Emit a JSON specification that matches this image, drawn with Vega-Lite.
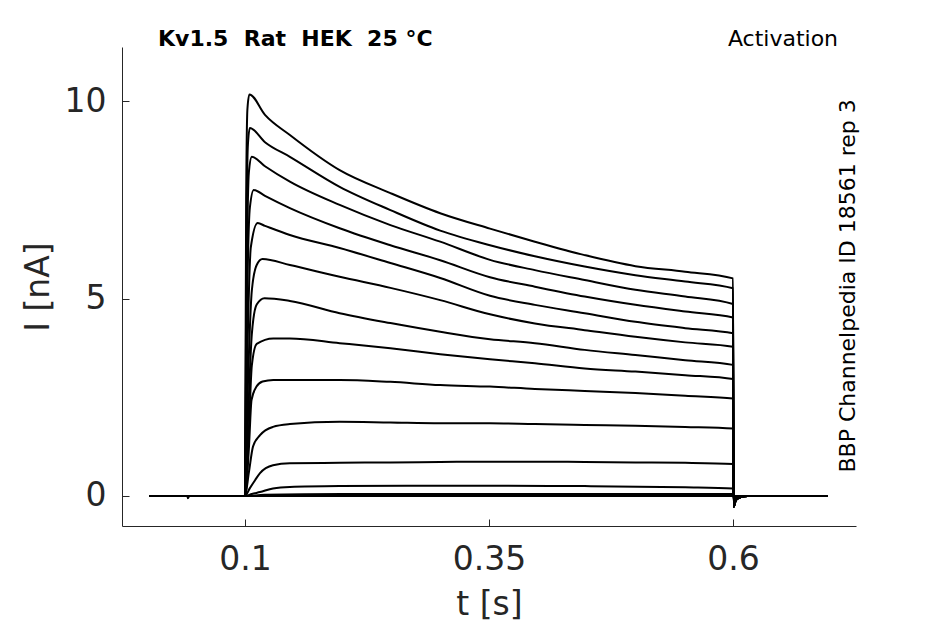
{
  "$schema": "https://vega.github.io/schema/vega-lite/v6.json",
  "width": 734,
  "height": 479,
  "autosize": {"type": "none"},
  "padding": {"left": 122, "top": 47, "right": 89, "bottom": 98},
  "background": "white",
  "config": {
    "view": {"stroke": null},
    "font": "DejaVu Sans",
    "axis": {
      "grid": false,
      "domainColor": "#262626",
      "domainWidth": 1,
      "tickColor": "#262626",
      "tickWidth": 1,
      "tickSize": -7,
      "labelColor": "#262626",
      "titleColor": "#262626",
      "labelFont": "DejaVu Sans",
      "titleFont": "DejaVu Sans",
      "labelFontSize": 33,
      "titleFontSize": 33,
      "titleFontWeight": "normal"
    }
  },
  "layer": [
    {
      "data": {
        "values": [
          {"k": 1, "t": 0.002, "i": 0}, {"k": 1, "t": 0.041, "i": 0}, {"k": 1, "t": 0.0415, "i": -0.06}, {"k": 1, "t": 0.043, "i": 0},
          {"k": 1, "t": 0.1, "i": 0}, {"k": 1, "t": 0.1012, "i": 7.5}, {"k": 1, "t": 0.1025, "i": 9.8}, {"k": 1, "t": 0.1045, "i": 10.17},
          {"k": 1, "t": 0.1205, "i": 9.65}, {"k": 1, "t": 0.146, "i": 9.14}, {"k": 1, "t": 0.197, "i": 8.25}, {"k": 1, "t": 0.249, "i": 7.67},
          {"k": 1, "t": 0.3, "i": 7.16}, {"k": 1, "t": 0.351, "i": 6.77}, {"k": 1, "t": 0.397, "i": 6.44}, {"k": 1, "t": 0.448, "i": 6.1},
          {"k": 1, "t": 0.5, "i": 5.82}, {"k": 1, "t": 0.551, "i": 5.68}, {"k": 1, "t": 0.6, "i": 5.51},
          {"k": 1, "t": 0.6006, "i": -0.27}, {"k": 1, "t": 0.603, "i": -0.1}, {"k": 1, "t": 0.608, "i": -0.03}, {"k": 1, "t": 0.615, "i": 0}, {"k": 1, "t": 0.697, "i": 0},

          {"k": 2, "t": 0.002, "i": 0}, {"k": 2, "t": 0.1, "i": 0}, {"k": 2, "t": 0.1015, "i": 6.5}, {"k": 2, "t": 0.103, "i": 8.9}, {"k": 2, "t": 0.105, "i": 9.32},
          {"k": 2, "t": 0.1205, "i": 8.96}, {"k": 2, "t": 0.146, "i": 8.59}, {"k": 2, "t": 0.197, "i": 7.83}, {"k": 2, "t": 0.249, "i": 7.24},
          {"k": 2, "t": 0.3, "i": 6.72}, {"k": 2, "t": 0.351, "i": 6.35}, {"k": 2, "t": 0.397, "i": 6.07}, {"k": 2, "t": 0.448, "i": 5.81},
          {"k": 2, "t": 0.5, "i": 5.59}, {"k": 2, "t": 0.551, "i": 5.43}, {"k": 2, "t": 0.6, "i": 5.26},
          {"k": 2, "t": 0.6006, "i": -0.27}, {"k": 2, "t": 0.603, "i": -0.1}, {"k": 2, "t": 0.608, "i": -0.03}, {"k": 2, "t": 0.615, "i": 0}, {"k": 2, "t": 0.697, "i": 0},

          {"k": 3, "t": 0.002, "i": 0}, {"k": 3, "t": 0.1, "i": 0}, {"k": 3, "t": 0.1018, "i": 5.5}, {"k": 3, "t": 0.104, "i": 8.2}, {"k": 3, "t": 0.107, "i": 8.59},
          {"k": 3, "t": 0.1205, "i": 8.35}, {"k": 3, "t": 0.146, "i": 7.96}, {"k": 3, "t": 0.197, "i": 7.37}, {"k": 3, "t": 0.249, "i": 6.86},
          {"k": 3, "t": 0.3, "i": 6.44}, {"k": 3, "t": 0.351, "i": 5.98}, {"k": 3, "t": 0.397, "i": 5.72}, {"k": 3, "t": 0.448, "i": 5.47},
          {"k": 3, "t": 0.5, "i": 5.22}, {"k": 3, "t": 0.551, "i": 5.05}, {"k": 3, "t": 0.6, "i": 4.86},
          {"k": 3, "t": 0.6006, "i": -0.27}, {"k": 3, "t": 0.603, "i": -0.1}, {"k": 3, "t": 0.608, "i": -0.03}, {"k": 3, "t": 0.615, "i": 0}, {"k": 3, "t": 0.697, "i": 0},

          {"k": 4, "t": 0.002, "i": 0}, {"k": 4, "t": 0.1, "i": 0}, {"k": 4, "t": 0.102, "i": 4.5}, {"k": 4, "t": 0.105, "i": 7.3}, {"k": 4, "t": 0.109, "i": 7.75},
          {"k": 4, "t": 0.1205, "i": 7.6}, {"k": 4, "t": 0.146, "i": 7.29}, {"k": 4, "t": 0.197, "i": 6.78}, {"k": 4, "t": 0.249, "i": 6.35},
          {"k": 4, "t": 0.3, "i": 5.97}, {"k": 4, "t": 0.351, "i": 5.54}, {"k": 4, "t": 0.397, "i": 5.3}, {"k": 4, "t": 0.448, "i": 5.05},
          {"k": 4, "t": 0.5, "i": 4.84}, {"k": 4, "t": 0.551, "i": 4.67}, {"k": 4, "t": 0.6, "i": 4.52},
          {"k": 4, "t": 0.6006, "i": -0.27}, {"k": 4, "t": 0.603, "i": -0.1}, {"k": 4, "t": 0.608, "i": -0.03}, {"k": 4, "t": 0.615, "i": 0}, {"k": 4, "t": 0.697, "i": 0},

          {"k": 5, "t": 0.002, "i": 0}, {"k": 5, "t": 0.1, "i": 0}, {"k": 5, "t": 0.1025, "i": 3.6}, {"k": 5, "t": 0.106, "i": 6.3}, {"k": 5, "t": 0.113, "i": 6.91},
          {"k": 5, "t": 0.1205, "i": 6.84}, {"k": 5, "t": 0.146, "i": 6.61}, {"k": 5, "t": 0.197, "i": 6.28}, {"k": 5, "t": 0.249, "i": 5.9},
          {"k": 5, "t": 0.3, "i": 5.52}, {"k": 5, "t": 0.351, "i": 5.07}, {"k": 5, "t": 0.397, "i": 4.84}, {"k": 5, "t": 0.448, "i": 4.63},
          {"k": 5, "t": 0.5, "i": 4.41}, {"k": 5, "t": 0.551, "i": 4.25}, {"k": 5, "t": 0.6, "i": 4.12},
          {"k": 5, "t": 0.6006, "i": -0.27}, {"k": 5, "t": 0.603, "i": -0.1}, {"k": 5, "t": 0.608, "i": -0.03}, {"k": 5, "t": 0.615, "i": 0}, {"k": 5, "t": 0.697, "i": 0},

          {"k": 6, "t": 0.002, "i": 0}, {"k": 6, "t": 0.1, "i": 0}, {"k": 6, "t": 0.103, "i": 2.8}, {"k": 6, "t": 0.107, "i": 5.2}, {"k": 6, "t": 0.112, "i": 5.85},
          {"k": 6, "t": 0.118, "i": 6.0}, {"k": 6, "t": 0.146, "i": 5.85}, {"k": 6, "t": 0.197, "i": 5.55}, {"k": 6, "t": 0.249, "i": 5.27},
          {"k": 6, "t": 0.3, "i": 4.96}, {"k": 6, "t": 0.351, "i": 4.6}, {"k": 6, "t": 0.397, "i": 4.37}, {"k": 6, "t": 0.448, "i": 4.2},
          {"k": 6, "t": 0.5, "i": 4.03}, {"k": 6, "t": 0.551, "i": 3.89}, {"k": 6, "t": 0.6, "i": 3.78},
          {"k": 6, "t": 0.6006, "i": -0.27}, {"k": 6, "t": 0.603, "i": -0.1}, {"k": 6, "t": 0.608, "i": -0.03}, {"k": 6, "t": 0.615, "i": 0}, {"k": 6, "t": 0.697, "i": 0},

          {"k": 7, "t": 0.002, "i": 0}, {"k": 7, "t": 0.1, "i": 0}, {"k": 7, "t": 0.1035, "i": 2.2}, {"k": 7, "t": 0.107, "i": 4.1}, {"k": 7, "t": 0.112, "i": 4.85},
          {"k": 7, "t": 0.12, "i": 5.01}, {"k": 7, "t": 0.146, "i": 4.94}, {"k": 7, "t": 0.197, "i": 4.63}, {"k": 7, "t": 0.249, "i": 4.38},
          {"k": 7, "t": 0.3, "i": 4.16}, {"k": 7, "t": 0.351, "i": 3.97}, {"k": 7, "t": 0.397, "i": 3.87}, {"k": 7, "t": 0.448, "i": 3.7},
          {"k": 7, "t": 0.5, "i": 3.57}, {"k": 7, "t": 0.551, "i": 3.44}, {"k": 7, "t": 0.6, "i": 3.32},
          {"k": 7, "t": 0.6006, "i": -0.27}, {"k": 7, "t": 0.603, "i": -0.1}, {"k": 7, "t": 0.608, "i": -0.03}, {"k": 7, "t": 0.615, "i": 0}, {"k": 7, "t": 0.697, "i": 0},

          {"k": 8, "t": 0.002, "i": 0}, {"k": 8, "t": 0.1, "i": 0}, {"k": 8, "t": 0.104, "i": 1.7}, {"k": 8, "t": 0.107, "i": 3.3}, {"k": 8, "t": 0.112, "i": 3.85},
          {"k": 8, "t": 0.129, "i": 3.99}, {"k": 8, "t": 0.146, "i": 3.99}, {"k": 8, "t": 0.197, "i": 3.87}, {"k": 8, "t": 0.249, "i": 3.74},
          {"k": 8, "t": 0.3, "i": 3.59}, {"k": 8, "t": 0.351, "i": 3.46}, {"k": 8, "t": 0.397, "i": 3.36}, {"k": 8, "t": 0.448, "i": 3.23},
          {"k": 8, "t": 0.5, "i": 3.15}, {"k": 8, "t": 0.551, "i": 3.06}, {"k": 8, "t": 0.6, "i": 2.96},
          {"k": 8, "t": 0.6006, "i": -0.27}, {"k": 8, "t": 0.603, "i": -0.1}, {"k": 8, "t": 0.608, "i": -0.03}, {"k": 8, "t": 0.615, "i": 0}, {"k": 8, "t": 0.697, "i": 0},

          {"k": 9, "t": 0.002, "i": 0}, {"k": 9, "t": 0.1, "i": 0}, {"k": 9, "t": 0.104, "i": 1.2}, {"k": 9, "t": 0.1067, "i": 2.43}, {"k": 9, "t": 0.1118, "i": 2.77},
          {"k": 9, "t": 0.118, "i": 2.9}, {"k": 9, "t": 0.129, "i": 2.94}, {"k": 9, "t": 0.146, "i": 2.94}, {"k": 9, "t": 0.197, "i": 2.94},
          {"k": 9, "t": 0.249, "i": 2.89}, {"k": 9, "t": 0.3, "i": 2.81}, {"k": 9, "t": 0.351, "i": 2.77}, {"k": 9, "t": 0.397, "i": 2.71},
          {"k": 9, "t": 0.448, "i": 2.66}, {"k": 9, "t": 0.5, "i": 2.61}, {"k": 9, "t": 0.551, "i": 2.54}, {"k": 9, "t": 0.6, "i": 2.47},
          {"k": 9, "t": 0.6006, "i": -0.27}, {"k": 9, "t": 0.603, "i": -0.1}, {"k": 9, "t": 0.608, "i": -0.03}, {"k": 9, "t": 0.615, "i": 0}, {"k": 9, "t": 0.697, "i": 0},

          {"k": 10, "t": 0.002, "i": 0}, {"k": 10, "t": 0.1, "i": 0}, {"k": 10, "t": 0.104, "i": 0.6}, {"k": 10, "t": 0.1082, "i": 1.25}, {"k": 10, "t": 0.1154, "i": 1.54},
          {"k": 10, "t": 0.1287, "i": 1.75}, {"k": 10, "t": 0.146, "i": 1.82}, {"k": 10, "t": 0.197, "i": 1.88}, {"k": 10, "t": 0.249, "i": 1.86},
          {"k": 10, "t": 0.3, "i": 1.84}, {"k": 10, "t": 0.351, "i": 1.84}, {"k": 10, "t": 0.397, "i": 1.82}, {"k": 10, "t": 0.448, "i": 1.8},
          {"k": 10, "t": 0.5, "i": 1.78}, {"k": 10, "t": 0.551, "i": 1.75}, {"k": 10, "t": 0.6, "i": 1.71},
          {"k": 10, "t": 0.6006, "i": -0.2}, {"k": 10, "t": 0.603, "i": -0.07}, {"k": 10, "t": 0.608, "i": -0.02}, {"k": 10, "t": 0.615, "i": 0}, {"k": 10, "t": 0.697, "i": 0},

          {"k": 11, "t": 0.002, "i": 0}, {"k": 11, "t": 0.1, "i": 0}, {"k": 11, "t": 0.105, "i": 0.2}, {"k": 11, "t": 0.1103, "i": 0.4}, {"k": 11, "t": 0.1154, "i": 0.58},
          {"k": 11, "t": 0.1287, "i": 0.78}, {"k": 11, "t": 0.146, "i": 0.83}, {"k": 11, "t": 0.197, "i": 0.84}, {"k": 11, "t": 0.249, "i": 0.85},
          {"k": 11, "t": 0.3, "i": 0.86}, {"k": 11, "t": 0.351, "i": 0.87}, {"k": 11, "t": 0.397, "i": 0.87}, {"k": 11, "t": 0.448, "i": 0.86},
          {"k": 11, "t": 0.5, "i": 0.85}, {"k": 11, "t": 0.551, "i": 0.84}, {"k": 11, "t": 0.6, "i": 0.81},
          {"k": 11, "t": 0.6006, "i": -0.12}, {"k": 11, "t": 0.603, "i": -0.04}, {"k": 11, "t": 0.61, "i": 0}, {"k": 11, "t": 0.697, "i": 0},

          {"k": 12, "t": 0.002, "i": 0}, {"k": 12, "t": 0.1, "i": 0}, {"k": 12, "t": 0.107, "i": 0.05}, {"k": 12, "t": 0.1154, "i": 0.1}, {"k": 12, "t": 0.1287, "i": 0.19},
          {"k": 12, "t": 0.146, "i": 0.23}, {"k": 12, "t": 0.197, "i": 0.25}, {"k": 12, "t": 0.3, "i": 0.26}, {"k": 12, "t": 0.448, "i": 0.25},
          {"k": 12, "t": 0.551, "i": 0.22}, {"k": 12, "t": 0.6, "i": 0.19},
          {"k": 12, "t": 0.6006, "i": -0.05}, {"k": 12, "t": 0.605, "i": 0}, {"k": 12, "t": 0.697, "i": 0},

          {"k": 13, "t": 0.002, "i": 0}, {"k": 13, "t": 0.1, "i": 0}, {"k": 13, "t": 0.12, "i": 0.03}, {"k": 13, "t": 0.2, "i": 0.05}, {"k": 13, "t": 0.6, "i": 0.05},
          {"k": 13, "t": 0.6006, "i": -0.02}, {"k": 13, "t": 0.61, "i": 0}, {"k": 13, "t": 0.697, "i": 0},

          {"k": 14, "t": 0.002, "i": 0}, {"k": 14, "t": 0.6, "i": 0}, {"k": 14, "t": 0.697, "i": 0}
        ]
      },
      "mark": {"type": "line", "color": "black", "strokeWidth": 2, "interpolate": "monotone"},
      "encoding": {
        "x": {
          "field": "t",
          "type": "quantitative",
          "scale": {"domain": [-0.026, 0.726], "nice": false, "zero": false},
          "axis": {"title": "t [s]", "values": [0.1, 0.35, 0.6], "format": "~g", "labelPadding": 24, "titlePadding": 12}
        },
        "y": {
          "field": "i",
          "type": "quantitative",
          "scale": {"domain": [-0.76, 11.37], "nice": false, "zero": false},
          "axis": {"title": "I [nA]", "values": [0, 5, 10], "format": "~g", "labelPadding": 23, "titlePadding": 9}
        },
        "detail": {"field": "k", "type": "nominal"},
        "order": {"field": "t", "type": "quantitative"}
      }
    },
    {
      "data": {"values": [{}]},
      "mark": {"type": "text", "text": "Kv1.5\u00a0\u00a0Rat\u00a0\u00a0HEK\u00a0\u00a025\u00a0°C", "align": "left", "baseline": "alphabetic", "fontSize": 22, "fontWeight": "bold", "font": "DejaVu Sans", "color": "black"},
      "encoding": {
        "x": {"datum": 0.0109, "type": "quantitative"},
        "y": {"datum": 11.39, "type": "quantitative"}
      }
    },
    {
      "data": {"values": [{}]},
      "mark": {"type": "text", "text": "Activation", "align": "right", "baseline": "alphabetic", "fontSize": 22, "font": "DejaVu Sans", "color": "black"},
      "encoding": {
        "x": {"datum": 0.7076, "type": "quantitative"},
        "y": {"datum": 11.39, "type": "quantitative"}
      }
    },
    {
      "data": {"values": [{}]},
      "mark": {"type": "text", "text": "BBP Channelpedia ID 18561 rep 3", "align": "center", "baseline": "middle", "angle": 270, "fontSize": 22, "font": "DejaVu Sans", "color": "black"},
      "encoding": {
        "x": {"datum": 0.718, "type": "quantitative"},
        "y": {"datum": 5.32, "type": "quantitative"}
      }
    }
  ]
}
